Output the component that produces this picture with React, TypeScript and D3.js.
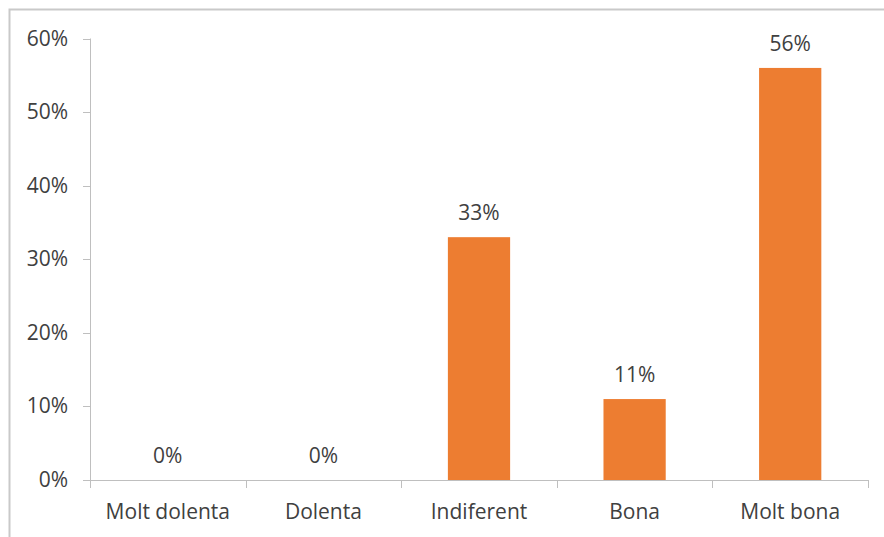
import React, { useEffect, useRef } from 'react';
import * as d3 from 'd3';

const categories = ['Molt dolenta', 'Dolenta', 'Indiferent', 'Bona', 'Molt bona'];
const values = [0, 0, 33, 11, 56];
const yTicks = [0, 10, 20, 30, 40, 50, 60];

const W = 884;
const H = 537;
const FONT = '"Open Sans", sans-serif';
const FS = 21;

function App() {
  const ref = useRef<SVGSVGElement>(null);

  useEffect(() => {
    const svg = d3.select(ref.current);
    svg.selectAll('*').remove();

    // outer frame (cut at right and bottom like the screenshot)
    svg.append('rect')
      .attr('x', 9.5).attr('y', 9.5)
      .attr('width', W + 20).attr('height', H + 20)
      .attr('fill', '#fff')
      .attr('stroke', '#c9c9c9')
      .attr('stroke-width', 2);

    const x = d3.scaleBand<string>()
      .domain(categories)
      .range([90, 868])
      .paddingInner(0.6)
      .paddingOuter(0.3);

    const y = d3.scaleLinear().domain([0, 60]).range([480, 38.5]);

    // y axis
    const yAxis = svg.append('g');
    yAxis.append('line')
      .attr('x1', 90.5).attr('x2', 90.5)
      .attr('y1', y(60)).attr('y2', y(0))
      .attr('stroke', '#bfbfbf');
    yAxis.selectAll('line.tick')
      .data(yTicks)
      .enter().append('line')
      .attr('class', 'tick')
      .attr('x1', 83).attr('x2', 90)
      .attr('y1', d => Math.round(y(d)) + 0.5)
      .attr('y2', d => Math.round(y(d)) + 0.5)
      .attr('stroke', '#bfbfbf');
    yAxis.selectAll('text')
      .data(yTicks)
      .enter().append('text')
      .attr('x', 68)
      .attr('y', d => y(d) + 7)
      .attr('text-anchor', 'end')
      .attr('font-family', FONT)
      .attr('font-size', FS)
      .attr('fill', '#404040')
      .text(d => d + '%');

    // x axis
    const step = x.step();
    const edges = d3.range(categories.length + 1).map(i => 90 + i * step);
    svg.append('line')
      .attr('x1', 90).attr('x2', 868)
      .attr('y1', 480.5).attr('y2', 480.5)
      .attr('stroke', '#bfbfbf');
    svg.selectAll('line.xtick')
      .data(edges)
      .enter().append('line')
      .attr('class', 'xtick')
      .attr('x1', d => Math.round(d) + 0.5)
      .attr('x2', d => Math.round(d) + 0.5)
      .attr('y1', 480).attr('y2', 488)
      .attr('stroke', '#bfbfbf');
    svg.selectAll('text.xlabel')
      .data(categories)
      .enter().append('text')
      .attr('class', 'xlabel')
      .attr('x', d => (x(d) as number) + x.bandwidth() / 2)
      .attr('y', 519)
      .attr('text-anchor', 'middle')
      .attr('font-family', FONT)
      .attr('font-size', FS)
      .attr('fill', '#404040')
      .text(d => d);

    // bars
    svg.selectAll('rect.bar')
      .data(values)
      .enter().append('rect')
      .attr('class', 'bar')
      .attr('x', (d, i) => x(categories[i]) as number)
      .attr('y', d => y(d))
      .attr('width', x.bandwidth())
      .attr('height', d => y(0) - y(d))
      .attr('fill', '#ED7D31');

    // value labels
    svg.selectAll('text.val')
      .data(values)
      .enter().append('text')
      .attr('class', 'val')
      .attr('x', (d, i) => (x(categories[i]) as number) + x.bandwidth() / 2)
      .attr('y', d => y(d) - 17)
      .attr('text-anchor', 'middle')
      .attr('font-family', FONT)
      .attr('font-size', FS)
      .attr('fill', '#404040')
      .text(d => d + '%');
  }, []);

  return (
    <svg ref={ref} width={W} height={H} style={{ position: 'absolute', left: 0, top: 0 }} />
  );
}

export default App;
